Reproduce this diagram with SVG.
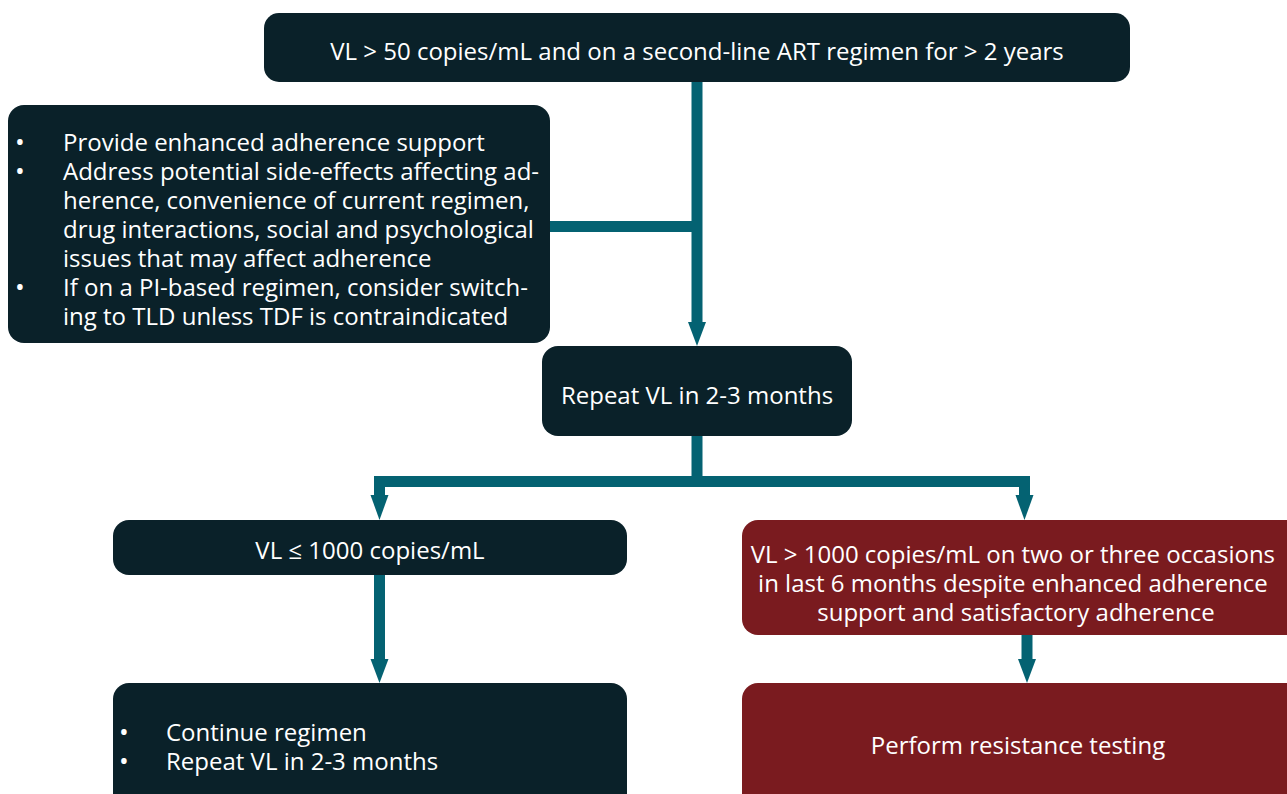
<svg xmlns="http://www.w3.org/2000/svg" width="1287" height="794" viewBox="0 0 1287 794">
<style>
.dark{fill:#0a2129}
.red{fill:#7a1b1f}
.t{font-family:"Open Sans","Noto Sans",sans-serif;font-size:24px;fill:#ffffff}
.c{text-anchor:middle}
.b{font-size:26px}
.ln{stroke:#046272;stroke-width:11;fill:none}
.ah{fill:#046272}
</style>
<rect width="1287" height="794" fill="#ffffff"/>
<g id="connectors">
<path class="ln" d="M697,82 V324"/>
<path class="ln" d="M550,226.5 H697"/>
<polygon class="ah" points="688,322 706,322 697,346"/>
<path class="ln" d="M697,436 V481.5 H379.5 V497"/>
<path class="ln" d="M697,481.5 H1024.5 V497"/>
<polygon class="ah" points="370.5,495 388.5,495 379.5,520"/>
<polygon class="ah" points="1015.5,495 1033.5,495 1024.5,520"/>
<path class="ln" d="M379.5,575 V662"/>
<polygon class="ah" points="370.5,659 388.5,659 379.5,683"/>
<path class="ln" d="M1027,635 V662"/>
<polygon class="ah" points="1018,659 1036,659 1027,683"/>
</g>
<g id="n1">
<rect class="dark" x="264" y="13" width="866" height="69" rx="15"/>
<text class="t c" x="697" y="60">VL &gt; 50 copies/mL and on a second-line ART regimen for &gt; 2 years</text>
</g>
<g id="n2">
<rect class="dark" x="8" y="105" width="542" height="238" rx="16"/>
<text class="t"><tspan class="b" x="15" y="151">•</tspan><tspan x="63" y="151">Provide enhanced adherence support</tspan>
<tspan class="b" x="15" y="180">•</tspan><tspan x="63" y="180">Address potential side-effects affecting ad-</tspan>
<tspan x="63" y="209">herence, convenience of current regimen,</tspan>
<tspan x="63" y="238">drug interactions, social and psychological</tspan>
<tspan x="63" y="267">issues that may affect adherence</tspan>
<tspan class="b" x="15" y="296">•</tspan><tspan x="63" y="296">If on a PI-based regimen, consider switch-</tspan>
<tspan x="63" y="325">ing to TLD unless TDF is contraindicated</tspan></text>
</g>
<g id="n3">
<rect class="dark" x="542" y="346" width="310" height="90" rx="16"/>
<text class="t c" x="697" y="404">Repeat VL in 2-3 months</text>
</g>
<g id="n4">
<rect class="dark" x="113" y="520" width="514" height="55" rx="16"/>
<text class="t c" x="370" y="559">VL ≤ 1000 copies/mL</text>
</g>
<g id="n5">
<rect class="red" x="742" y="520" width="560" height="115" rx="16"/>
<text class="t c"><tspan x="1016" y="563">VL &gt; 1000 copies/mL on two or three occasions</tspan>
<tspan x="1016" y="592">in last 6 months despite enhanced adherence</tspan>
<tspan x="1016" y="621">support and satisfactory adherence</tspan></text>
</g>
<g id="n6">
<rect class="dark" x="113" y="683" width="514" height="130" rx="16"/>
<text class="t"><tspan class="b" x="119" y="741">•</tspan><tspan x="166" y="741">Continue regimen</tspan>
<tspan class="b" x="119" y="770">•</tspan><tspan x="166" y="770">Repeat VL in 2-3 months</tspan></text>
</g>
<g id="n7">
<rect class="red" x="742" y="683" width="560" height="130" rx="16"/>
<text class="t c" x="1018" y="754">Perform resistance testing</text>
</g>
</svg>
